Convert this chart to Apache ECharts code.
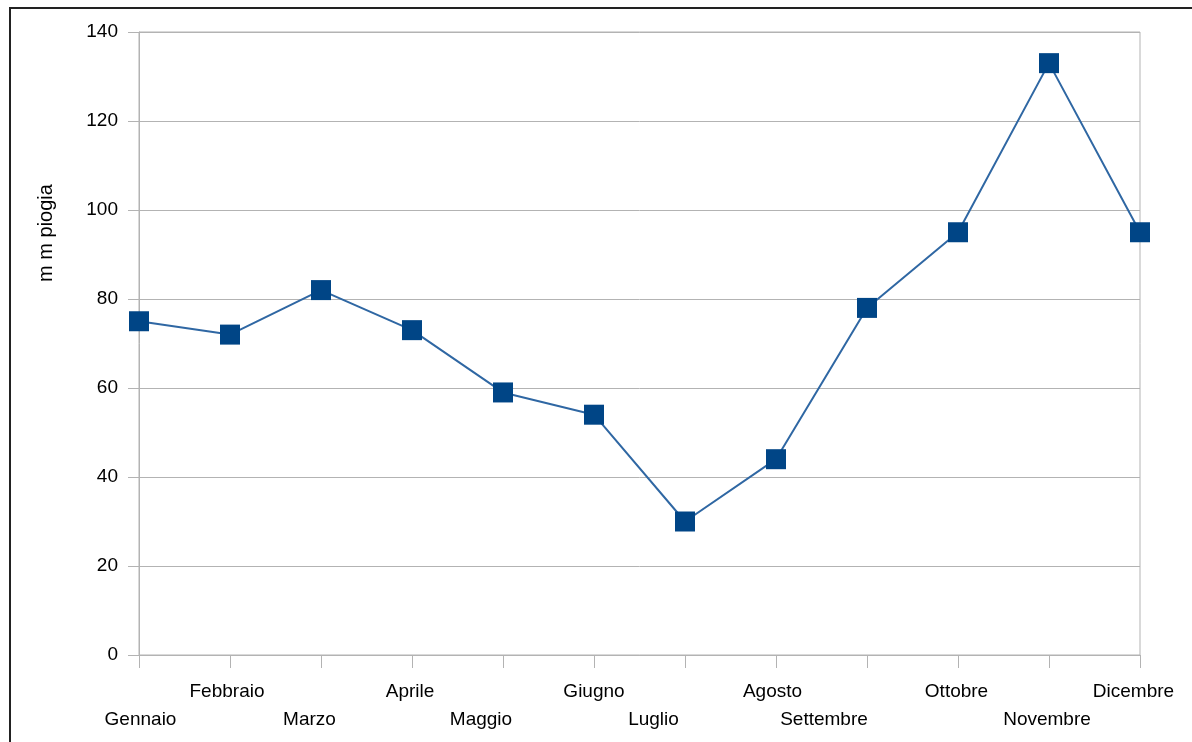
<!DOCTYPE html>
<html>
<head>
<meta charset="utf-8">
<script src="https://cdn.jsdelivr.net/npm/echarts@6/dist/echarts.min.js"></script>
<style>
  html, body { margin: 0; padding: 0; background: #ffffff; }
  #chart { width: 1192px; height: 742px; }
</style>
</head>
<body>
<div id="chart"></div>
<script>
// Monthly rainfall (mm)
const months = ['Gennaio', 'Febbraio', 'Marzo', 'Aprile', 'Maggio', 'Giugno',
                'Luglio', 'Agosto', 'Settembre', 'Ottobre', 'Novembre', 'Dicembre'];
const rainfall = [75, 72, 82, 73, 59, 54, 30, 44, 78, 95, 133, 95];
const yTicks = { min: 0, max: 140, step: 20 };
const yAxisTitle = 'm m piogia';

// Horizontal nudge (px) of each staggered month label from its tick
const labelNudge = [1.5, -3, -11.5, -2, -22, 0, -31.5, -3.5, -43, -1.5, -2, -6.5];

const gridColor = '#b3b3b3';
const font = '"Liberation Sans", Arial, sans-serif';

// One rich-text style per label; asymmetric padding shifts the centred text
const labelRich = {};
labelNudge.forEach((d, i) => {
  labelRich['m' + i] = {
    fontFamily: font,
    fontSize: 19,
    color: '#000000',
    lineHeight: 28,
    padding: d < 0 ? [0, -2 * d, 0, 0] : [0, 0, 0, 2 * d]
  };
});

const chart = echarts.init(document.getElementById('chart'), null, { renderer: 'canvas' });

chart.setOption({
  backgroundColor: '#ffffff',
  animation: false,
  grid: {
    left: 139, right: 52, top: 32, bottom: 87,
    show: true, borderColor: gridColor, borderWidth: 1
  },
  graphic: [
    {
      type: 'rect',
      shape: { x: 10, y: 8, width: 1300, height: 900 },
      style: { fill: 'none', stroke: '#222222', lineWidth: 2 },
      silent: true
    },
    {
      type: 'text',
      x: 46, y: 233,
      rotation: Math.PI / 2,
      style: {
        text: yAxisTitle,
        font: '20px ' + font,
        fill: '#000000',
        align: 'center',
        verticalAlign: 'middle'
      },
      silent: true
    }
  ],
  xAxis: {
    type: 'category',
    data: months,
    boundaryGap: false,
    axisLine: { show: true, lineStyle: { color: gridColor, width: 1 } },
    axisTick: { show: true, length: 13, lineStyle: { color: gridColor }, alignWithLabel: true },
    splitLine: { show: false },
    axisLabel: {
      interval: 0,
      margin: 23,
      color: '#000000',
      fontFamily: font,
      fontSize: 19,
      lineHeight: 28,
      rich: labelRich,
      formatter: (v, i) => (i % 2 === 0 ? '\n' : '') + '{m' + i + '|' + v + '}'
    }
  },
  yAxis: {
    type: 'value',
    min: yTicks.min,
    max: yTicks.max,
    interval: yTicks.step,
    axisLine: { show: true, lineStyle: { color: gridColor } },
    axisTick: { show: true, length: 11, lineStyle: { color: gridColor } },
    splitLine: { show: true, lineStyle: { color: gridColor, width: 1 } },
    axisLabel: {
      margin: 21,
      color: '#000000',
      fontFamily: font,
      fontSize: 19,
      padding: [4, 0, 0, 0]
    }
  },
  series: [{
    type: 'line',
    data: rainfall,
    symbol: 'rect',
    symbolSize: 20,
    lineStyle: { color: '#2f67a3', width: 2 },
    itemStyle: { color: '#004586' },
    z: 5
  }]
});
</script>
</body>
</html>
